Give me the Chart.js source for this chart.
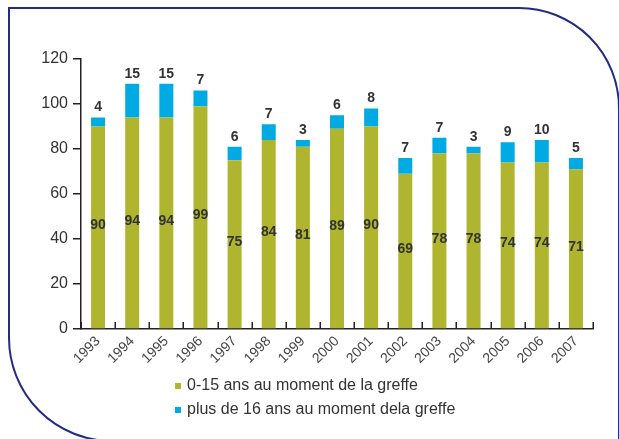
<!DOCTYPE html>
<html>
<head>
<meta charset="utf-8">
<script src="https://cdn.jsdelivr.net/npm/chart.js@4/dist/chart.umd.min.js"></script>
<style>
  html, body { margin: 0; padding: 0; background: #fff; }
  #wrap { position: relative; width: 619px; height: 439px; }
  #c { position: absolute; left: 0; top: 0; }
  #legend { position: absolute; left: 175px; top: 374px; font-family: "Liberation Sans", Arial, sans-serif; font-size: 16px; color: #333; }
  #legend .item { height: 24px; line-height: 22px; white-space: nowrap; }
  #legend .sw { display: inline-block; width: 6px; height: 6px; margin-right: 6px; vertical-align: 1px; }
</style>
</head>
<body>
<div id="wrap">
  <canvas id="c" width="619" height="439"></canvas>
  <div id="legend"></div>
</div>
<script>
const years = ['1993','1994','1995','1996','1997','1998','1999','2000','2001','2002','2003','2004','2005','2006','2007'];
const young = [90, 94, 94, 99, 75, 84, 81, 89, 90, 69, 78, 78, 74, 74, 71];
const older = [4, 15, 15, 7, 6, 7, 3, 6, 8, 7, 7, 3, 9, 10, 5];
const seriesLabels = ['0-15 ans au moment de la greffe', 'plus de 16 ans au moment dela greffe'];
const colors = ['#b0b52f', '#00aae3'];
const yTicks = [0, 20, 40, 60, 80, 100, 120];

const framePlugin = {
  id: 'frame',
  beforeDraw(chart) {
    const ctx = chart.ctx;
    ctx.save();
    ctx.strokeStyle = '#222c80';
    ctx.lineWidth = 2;
    ctx.beginPath();
    ctx.arc(112, 338, 103, Math.PI / 2, Math.PI, false);
    ctx.lineTo(9, 8);
    ctx.lineTo(519, 8);
    ctx.arc(519, 108, 100, -Math.PI / 2, 0, false);
    ctx.lineTo(619, 500);
    ctx.stroke();
    ctx.restore();
  }
};

// inward category-boundary tick marks on the x axis, placed from the x scale
const xTickPlugin = {
  id: 'xticks',
  afterDraw(chart) {
    const xs = chart.scales.x;
    const ctx = chart.ctx;
    const y0 = chart.chartArea.bottom;
    ctx.save();
    ctx.strokeStyle = '#222';
    ctx.lineWidth = 1.5;
    ctx.beginPath();
    for (let i = 0; i <= years.length; i++) {
      const x = Math.round(xs.getPixelForValue(i - 0.5)) + 0.25;
      ctx.moveTo(x, y0);
      ctx.lineTo(x, y0 - 7);
    }
    ctx.stroke();
    ctx.restore();
  }
};

const labelPlugin = {
  id: 'vals',
  afterDatasetsDraw(chart) {
    const ctx = chart.ctx;
    ctx.save();
    ctx.font = 'bold 14px "Liberation Sans", Arial, sans-serif';
    ctx.fillStyle = '#333';
    ctx.textAlign = 'center';
    const m0 = chart.getDatasetMeta(0);
    m0.data.forEach((bar, i) => {
      ctx.textBaseline = 'middle';
      ctx.fillText(String(young[i]), bar.x, (bar.y + bar.base) / 2 - 2);
    });
    const m1 = chart.getDatasetMeta(1);
    m1.data.forEach((bar, i) => {
      ctx.textBaseline = 'bottom';
      ctx.fillText(String(older[i]), bar.x, bar.y - 3);
    });
    ctx.restore();
  }
};

const chart = new Chart(document.getElementById('c'), {
  type: 'bar',
  data: {
    labels: years,
    datasets: [
      { label: seriesLabels[0], data: young, backgroundColor: colors[0], barPercentage: 0.41, categoryPercentage: 1 },
      { label: seriesLabels[1], data: older, backgroundColor: colors[1], barPercentage: 0.41, categoryPercentage: 1 }
    ]
  },
  options: {
    responsive: false,
    animation: false,
    devicePixelRatio: 1,
    layout: { padding: { left: 0, right: 26, top: 59, bottom: 60 } },
    plugins: { legend: { display: false }, tooltip: { enabled: false } },
    scales: {
      x: {
        stacked: true,
        grid: { display: true, drawOnChartArea: false, drawTicks: false, color: 'rgba(0,0,0,0)' },
        border: { display: true, color: '#222', width: 1.5 },
        ticks: {
          color: '#444', padding: 4, minRotation: 45, maxRotation: 45,
          font: { family: '"Liberation Sans", Arial, sans-serif', size: 14 }
        },
        afterFit(s) { s.height = 50; }
      },
      y: {
        stacked: true,
        min: 0, max: 120,
        afterBuildTicks(s) { s.ticks = yTicks.map(v => ({ value: v })); },
        grid: { drawOnChartArea: false, drawTicks: true, tickLength: 8, color: '#222', lineWidth: 1.5 },
        border: { display: true, color: '#222', width: 1.5 },
        ticks: {
          color: '#333', padding: 5,
          font: { family: '"Liberation Sans", Arial, sans-serif', size: 16 }
        },
        afterFit(s) { s.width = 81; }
      }
    }
  },
  plugins: [framePlugin, labelPlugin, xTickPlugin]
});

const lg = document.getElementById('legend');
chart.data.datasets.forEach(ds => {
  const d = document.createElement('div');
  d.className = 'item';
  const sw = document.createElement('span');
  sw.className = 'sw';
  sw.style.background = ds.backgroundColor;
  d.appendChild(sw);
  d.appendChild(document.createTextNode(ds.label));
  lg.appendChild(d);
});
</script>
</body>
</html>
